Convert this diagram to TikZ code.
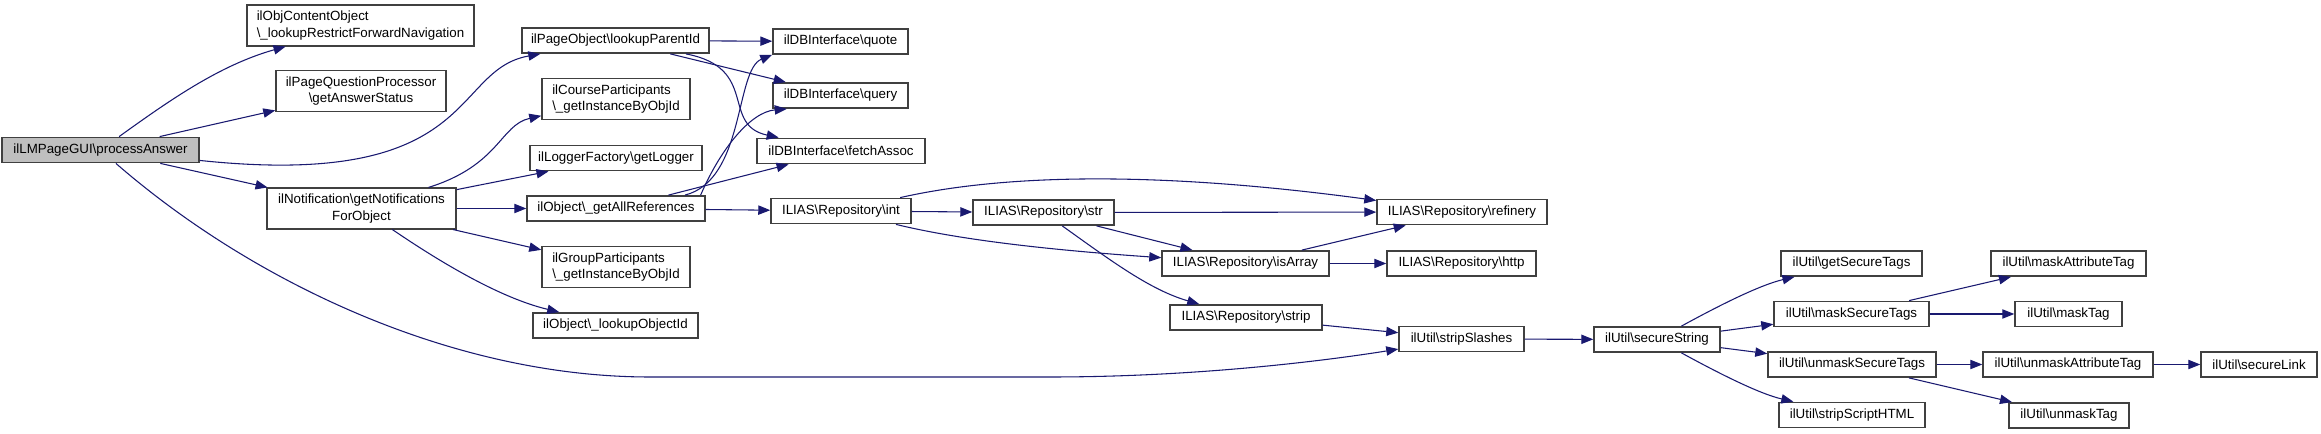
\documentclass[tikz,border=0pt]{standalone}
\usepackage{fontspec}
\setmainfont{Liberation Sans}
\usetikzlibrary{arrows.meta}
\definecolor{callblue}{RGB}{25,25,112}
\definecolor{boxline}{RGB}{64,64,64}
\definecolor{rootgray}{RGB}{191,191,191}
\newcommand{\nsep}{\textbackslash}

\begin{document}
\begin{tikzpicture}[x=0.75pt,y=0.75pt,yscale=-1,xscale=1,
  fn/.style={draw=boxline,line width=1.1pt,fill=white,inner sep=0pt,minimum height=19pt,font=\fontsize{10}{12.5}\selectfont},
  fntwo/.style={fn,minimum height=30.5pt},
  call/.style={draw=callblue,line width=0.8pt,-{Triangle[length=9pt,width=7pt]}}]
\useasboundingbox (0,0) rectangle (2321,434);

% Text Node
\node[fn,fill=rootgray,minimum width=147.75pt] (pa) at (100.5,150) {ilLMPageGUI\nsep processAnswer};
% Text Node
\node[fntwo,align=left,minimum width=170.25pt] (occ) at (360.5,25.5) {ilObjContentObject\\\nsep\_lookupRestrictForwardNavigation};
% Text Node
\node[fntwo,align=center,minimum width=127.5pt] (pqp) at (361,91) {ilPageQuestionProcessor\\\nsep getAnswerStatus};
% Text Node
\node[fntwo,align=center,minimum width=141.75pt] (notif) at (361.5,208.5) {ilNotification\nsep getNotifications\\ForObject};
% Text Node
\node[fn,minimum width=140.25pt] (lpi) at (615.5,40.5) {ilPageObject\nsep lookupParentId};
% Text Node
\node[fntwo,align=left,minimum width=111pt] (cpart) at (616,99) {ilCourseParticipants\\\nsep\_getInstanceByObjId};
% Text Node
\node[fn,minimum width=129pt] (logger) at (616,158) {ilLoggerFactory\nsep getLogger};
% Text Node
\node[fn,minimum width=133.5pt] (allref) at (616,208.5) {ilObject\nsep\_getAllReferences};
% Text Node
\node[fntwo,align=left,minimum width=111pt] (gpart) at (616,267) {ilGroupParticipants\\\nsep\_getInstanceByObjId};
% Text Node
\node[fn,minimum width=123.75pt] (lookupobj) at (615.5,325.5) {ilObject\nsep\_lookupObjectId};
% Text Node
\node[fn,minimum width=101.25pt] (quote) at (840.5,41.5) {ilDBInterface\nsep quote};
% Text Node
\node[fn,minimum width=101.25pt] (query) at (840.5,95.5) {ilDBInterface\nsep query};
% Text Node
\node[fn,minimum width=126pt] (fetch) at (841,151) {ilDBInterface\nsep fetchAssoc};
% Text Node
\node[fn,minimum width=105pt] (int) at (841,211) {ILIAS\nsep Repository\nsep int};
% Text Node
\node[fn,minimum width=105.75pt] (str) at (1043.5,212.5) {ILIAS\nsep Repository\nsep str};
% Text Node
\node[fn,minimum width=127.5pt] (refinery) at (1462,212) {ILIAS\nsep Repository\nsep refinery};
% Text Node
\node[fn,minimum width=125.25pt] (isarray) at (1245.5,263.5) {ILIAS\nsep Repository\nsep isArray};
% Text Node
\node[fn,minimum width=111.75pt] (http) at (1461.5,263.5) {ILIAS\nsep Repository\nsep http};
% Text Node
\node[fn,minimum width=114pt] (strip) at (1246,317.5) {ILIAS\nsep Repository\nsep strip};
% Text Node
\node[fn,minimum width=93.75pt] (stripsl) at (1461.5,339) {ilUtil\nsep stripSlashes};
% Text Node
\node[fn,minimum width=94.5pt] (secstr) at (1657,339.5) {ilUtil\nsep secureString};
% Text Node
\node[fn,minimum width=105.75pt] (getsec) at (1851.5,263.5) {ilUtil\nsep getSecureTags};
% Text Node
\node[fn,minimum width=116.25pt] (masksec) at (1851.5,314) {ilUtil\nsep maskSecureTags};
% Text Node
\node[fn,minimum width=126pt] (unmasksec) at (1852,364.5) {ilUtil\nsep unmaskSecureTags};
% Text Node
\node[fn,minimum width=109.5pt] (stripscript) at (1852,415) {ilUtil\nsep stripScriptHTML};
% Text Node
\node[fn,minimum width=116.25pt] (maskattr) at (2068.5,263.5) {ilUtil\nsep maskAttributeTag};
% Text Node
\node[fn,minimum width=80.25pt] (masktag) at (2068.5,314) {ilUtil\nsep maskTag};
% Text Node
\node[fn,minimum width=127.5pt] (unmaskattr) at (2068,364.5) {ilUtil\nsep unmaskAttributeTag};
% Text Node
\node[fn,minimum width=87pt] (securelink) at (2259,364.5) {ilUtil\nsep secureLink};
% Text Node
\node[fn,minimum width=90pt] (unmasktag) at (2069,415.5) {ilUtil\nsep unmaskTag};

%Curve Lines
\draw[call] (pa) .. controls (170,100) and (220,65) .. (occ);
\draw[call] (pa) -- (pqp);
\draw[call] (pa) .. controls (480,190) and (450,70) .. (lpi);
\draw[call] (pa) -- (notif);
\draw[call] (pa) .. controls (250,280) and (450,377) .. (650,377) -- (1050,377) .. controls (1200,377) and (1330,360) .. (stripsl);
%Curve Lines
\draw[call] (notif) .. controls (500,165) and (500,125) .. (cpart);
\draw[call] (notif) -- (logger);
\draw[call] (notif) -- (allref);
\draw[call] (notif) -- (gpart);
\draw[call] (notif) .. controls (440,262) and (500,298) .. (lookupobj);
%Curve Lines
\draw[call] (lpi) -- (quote);
\draw[call] (lpi) -- (query);
\draw[call] (lpi) .. controls (760,68) and (720,125) .. (fetch);
\draw[call] (allref.11) .. controls (745,180) and (735,70) .. (quote.191);
\draw[call] (allref.9) .. controls (720,150) and (750,112) .. (query.194);
\draw[call] (allref) -- (fetch);
\draw[call] (allref) -- (int);
%Curve Lines
\draw[call] (int) -- (str);
\draw[call] (int) .. controls (1000,175) and (1150,170) .. (refinery);
\draw[call] (int) .. controls (960,240) and (1050,250) .. (isarray);
\draw[call] (str) -- (refinery);
\draw[call] (str) -- (isarray);
\draw[call] (str) .. controls (1110,260) and (1150,290) .. (strip);
\draw[call] (isarray) -- (refinery);
\draw[call] (isarray) -- (http);
\draw[call] (strip) -- (stripsl);
\draw[call] (stripsl) -- (secstr);
%Curve Lines
\draw[call] (secstr) .. controls (1720,305) and (1760,285) .. (getsec);
\draw[call] (secstr) -- (masksec);
\draw[call] (secstr) -- (unmasksec);
\draw[call] (secstr) .. controls (1720,374) and (1760,394) .. (stripscript);
\draw[call] (masksec) -- (maskattr);
\draw[call] (masksec) -- (masktag);
\draw[call] (unmasksec) -- (unmaskattr);
\draw[call] (unmasksec) -- (unmasktag);
\draw[call] (unmaskattr) -- (securelink);
\end{tikzpicture}
\end{document}
